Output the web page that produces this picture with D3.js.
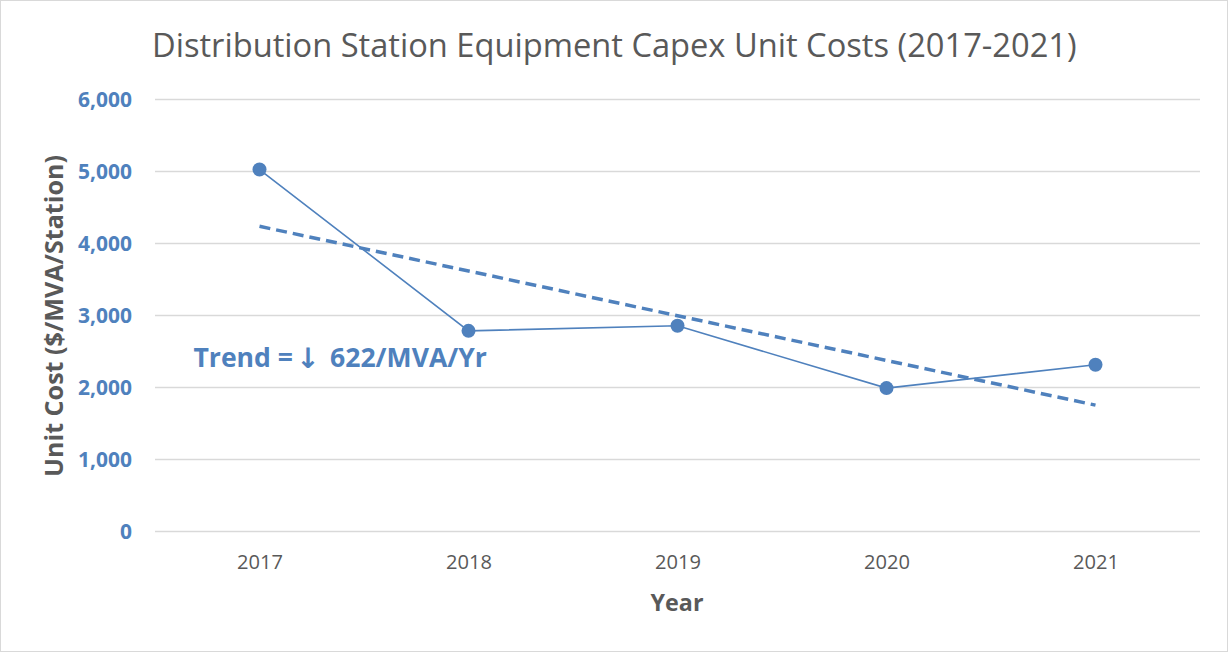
<!DOCTYPE html>
<html><head><meta charset="utf-8">
<script src="https://cdn.jsdelivr.net/npm/d3@7"></script>
<style>body{margin:0;background:#fff}svg{display:block}</style>
</head><body>
<svg id="c" width="1228" height="653"></svg>
<script>
const years = ["2017","2018","2019","2020","2021"];
const unitCost = [5020, 2780, 2850, 1985, 2310];
const trendYears = ["2017","2021"];
const trendValues = [4232, 1748];
const yTicks = [0,1000,2000,3000,4000,5000,6000];
const titleText = "Distribution Station Equipment Capex Unit Costs (2017-2021)";
const annotationParts = ["Trend =", "\u2193", "622/MVA/Yr"];

(function(){
const svg = d3.select("#c");
const W = 1228, H = 653;
const blue = "#4F81BD";
const font = "'Open Sans', 'Liberation Sans', sans-serif";
svg.append("rect").attr("x",0.5).attr("y",0.5).attr("width",W-1).attr("height",H-2)
  .attr("fill","#fff").attr("stroke","#d9d9d9").attr("stroke-width",1);

const pL = 155, pR = 1200, pT = 99, pB = 531;
const x = d3.scalePoint().domain(years).range([pL, pR]).padding(0.5);
const y = d3.scaleLinear().domain([0,6000]).range([pB, pT]);

function fit(sel, w){ const n = sel.node(); const l = n.getComputedTextLength(); const fs = parseFloat(sel.attr("font-size")); sel.attr("font-size", fs*w/l); return fs*w/l; }

const ya = svg.append("g").attr("transform",`translate(${pL},0)`)
  .call(d3.axisLeft(y).tickValues(yTicks).tickSize(-(pR-pL)).tickPadding(23).tickFormat(d3.format(",")));
ya.select(".domain").remove();
ya.selectAll(".tick line").attr("stroke","#d9d9d9").attr("stroke-width",1.3);
ya.selectAll(".tick text").attr("fill",blue).attr("font-family",font).attr("font-weight","bold").attr("font-size",16.5);
const yfs = fit(ya.selectAll(".tick text").filter(d=>d===6000), 54);
ya.selectAll(".tick text").attr("font-size", yfs).attr("dy","0.35em");

const xa = svg.append("g").attr("transform",`translate(0,${pB})`)
  .call(d3.axisBottom(x).tickSize(0));
xa.select(".domain").remove();
xa.selectAll(".tick text").attr("fill","#595959").attr("font-family",font).attr("font-size",16.5);
const xfs = fit(xa.selectAll(".tick text").filter(d=>d==="2017"), 46);
xa.selectAll(".tick text").attr("font-size", xfs).attr("y", 38).attr("dy", 0);

const tline = d3.line().x((d,i)=>x(trendYears[i])).y(d=>y(d));
svg.append("path").datum(trendValues).attr("d",tline).attr("fill","none")
  .attr("stroke",blue).attr("stroke-width",3.5).attr("stroke-dasharray","11,6");

const line = d3.line().x((d,i)=>x(years[i])).y(d=>y(d));
svg.append("path").datum(unitCost).attr("d",line).attr("fill","none").attr("stroke",blue).attr("stroke-width",1.6);
svg.selectAll("circle.pt").data(unitCost).join("circle").attr("class","pt")
  .attr("cx",(d,i)=>x(years[i])).attr("cy",d=>y(d)).attr("r",7).attr("fill",blue);

const t = svg.append("text").attr("x",152).attr("y",57).attr("fill","#595959").attr("font-family",font).attr("font-size",30).text(titleText);
fit(t, 925);
const yt = svg.append("text").attr("transform","translate(63,316) rotate(-90)").attr("text-anchor","middle")
  .attr("fill","#595959").attr("font-family",font).attr("font-weight","bold").attr("font-size",22).text("Unit Cost ($/MVA/Station)");
fit(yt, 322);
const xt = svg.append("text").attr("x",677).attr("y",611).attr("text-anchor","middle")
  .attr("fill","#595959").attr("font-family",font).attr("font-weight","bold").attr("font-size",22).text("Year");
fit(xt, 53);

const a3 = svg.append("text").attr("x",330).attr("y",367).attr("fill",blue).attr("font-family",font).attr("font-weight","bold").attr("font-size",22).text(annotationParts[2]);
const afs = fit(a3, 157);
svg.append("text").attr("x",293).attr("y",367).attr("text-anchor","end").attr("fill",blue).attr("font-family",font).attr("font-weight","bold").attr("font-size",afs).text(annotationParts[0]);
svg.append("text").attr("x",308).attr("y",368).attr("text-anchor","middle").attr("fill",blue)
  .attr("font-family","'DejaVu Sans', sans-serif").attr("font-weight","bold").attr("font-size",28).text(annotationParts[1]);
})();
</script>
</body></html>
